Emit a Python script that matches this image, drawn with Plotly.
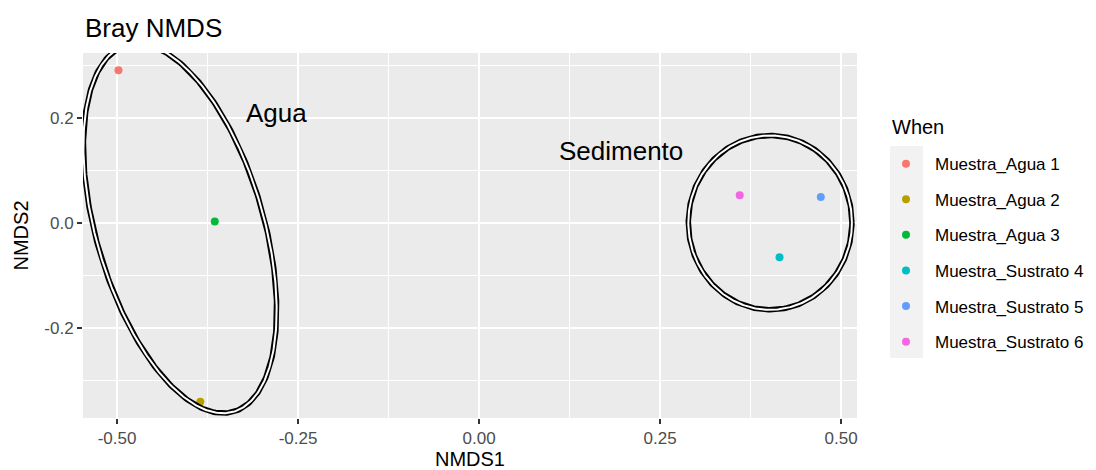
import numpy as np
import plotly.graph_objects as go

# NMDS scores per sample
samples = ["Muestra_Agua 1", "Muestra_Agua 2", "Muestra_Agua 3",
           "Muestra_Sustrato 4", "Muestra_Sustrato 5", "Muestra_Sustrato 6"]
nmds1 = [-0.498, -0.385, -0.365, 0.415, 0.472, 0.360]
nmds2 = [0.291, -0.340, 0.003, -0.065, 0.050, 0.053]
colors = ["#F8766D", "#B79F00", "#00BA38", "#00BFC4", "#619CFF", "#F564E3"]

# axis ticks
x_ticks = [-0.50, -0.25, 0.00, 0.25, 0.50]
x_ticklabels = ["-0.50", "-0.25", "0.00", "0.25", "0.50"]
x_minor = [-0.375, -0.125, 0.125, 0.375]
y_ticks = [-0.2, 0.0, 0.2]
y_ticklabels = ["-0.2", "0.0", "0.2"]
y_minor = [-0.3, -0.1, 0.1, 0.3]
x_range = [-0.547, 0.522]
y_range = [-0.371, 0.324]

# group outlines: centre, two conjugate semi-axis vectors (data units)
groups = ["Agua", "Sedimento"]
group_center_x = [-0.413, 0.402]
group_center_y = [-0.010, 0.001]
group_u = [(-0.0741, 0.349), (0.113, 0.0)]
group_v = [(0.111, 0.045), (0.0, 0.166)]
group_label_x = [-0.280, 0.196]
group_label_y = [0.209, 0.137]

FONT = "Liberation Sans, Arial, Helvetica, sans-serif"

fig = go.Figure()

for name, x, y, c in zip(samples, nmds1, nmds2, colors):
    fig.add_trace(go.Scatter(
        x=[x], y=[y], mode="markers", name=name, legendgroup=name,
        marker=dict(color=c, size=8, line=dict(width=0)),
    ))

t = np.linspace(0, 2 * np.pi, 400)
for cx, cy, u, v in zip(group_center_x, group_center_y, group_u, group_v):
    ex = cx + u[0] * np.cos(t) + v[0] * np.sin(t)
    ey = cy + u[1] * np.cos(t) + v[1] * np.sin(t)
    fig.add_trace(go.Scatter(x=ex, y=ey, mode="lines", showlegend=False,
                             cliponaxis=False, hoverinfo="skip",
                             line=dict(color="black", width=5.5)))
    fig.add_trace(go.Scatter(x=ex, y=ey, mode="lines", showlegend=False,
                             cliponaxis=False, hoverinfo="skip",
                             line=dict(color="white", width=2)))

for g, lx, ly in zip(groups, group_label_x, group_label_y):
    fig.add_annotation(x=lx, y=ly, text=g, showarrow=False,
                       font=dict(family=FONT, size=26, color="black"))

# legend heading
fig.add_annotation(xref="paper", yref="paper", x=(890 - 83) / 774,
                   y=(418 - 127) / 365, xanchor="left", yanchor="middle",
                   text="When", showarrow=False,
                   font=dict(family=FONT, size=20, color="black"))

# grey background behind legend keys
fig.add_shape(type="rect", xref="paper", yref="paper",
              x0=(890 - 83) / 774, x1=(923 - 83) / 774,
              y0=(418 - 358) / 365, y1=(418 - 146) / 365,
              fillcolor="#F2F2F2", line=dict(width=0), layer="below")

axis_common = dict(
    showline=False, zeroline=False, showgrid=True,
    gridcolor="white", gridwidth=1.6,
    ticks="outside", ticklen=5, tickwidth=1.6, tickcolor="#333333",
    tickfont=dict(family=FONT, size=17, color="#4D4D4D"),
    title_font=dict(family=FONT, size=20, color="black"),
)

fig.update_xaxes(
    range=x_range, tickmode="array", tickvals=x_ticks, ticktext=x_ticklabels,
    minor=dict(tickmode="array", tickvals=x_minor, showgrid=True,
               gridcolor="white", gridwidth=0.8, ticks=""),
    title_text="NMDS1", title_standoff=0, **axis_common,
)
fig.update_yaxes(
    range=y_range, tickmode="array", tickvals=y_ticks, ticktext=y_ticklabels,
    minor=dict(tickmode="array", tickvals=y_minor, showgrid=True,
               gridcolor="white", gridwidth=0.8, ticks=""),
    title_text="NMDS2", title_standoff=10, **axis_common,
)

fig.update_layout(
    width=1096, height=470,
    margin=dict(l=83, r=239, t=53, b=52, autoexpand=False),
    plot_bgcolor="#EBEBEB", paper_bgcolor="white",
    title=dict(text="Bray NMDS", x=85 / 1096, xanchor="left",
               y=(470 - 28) / 470, yanchor="middle",
               font=dict(family=FONT, size=26, color="black")),
    legend=dict(
        font=dict(family=FONT, size=17, color="black"),
        x=(877 - 83) / 774, xanchor="left", y=0.745, yanchor="top",
        bgcolor="rgba(0,0,0,0)", tracegroupgap=10.5, itemwidth=48,
    ),
    showlegend=True,
)

fig.write_html("out.html")
